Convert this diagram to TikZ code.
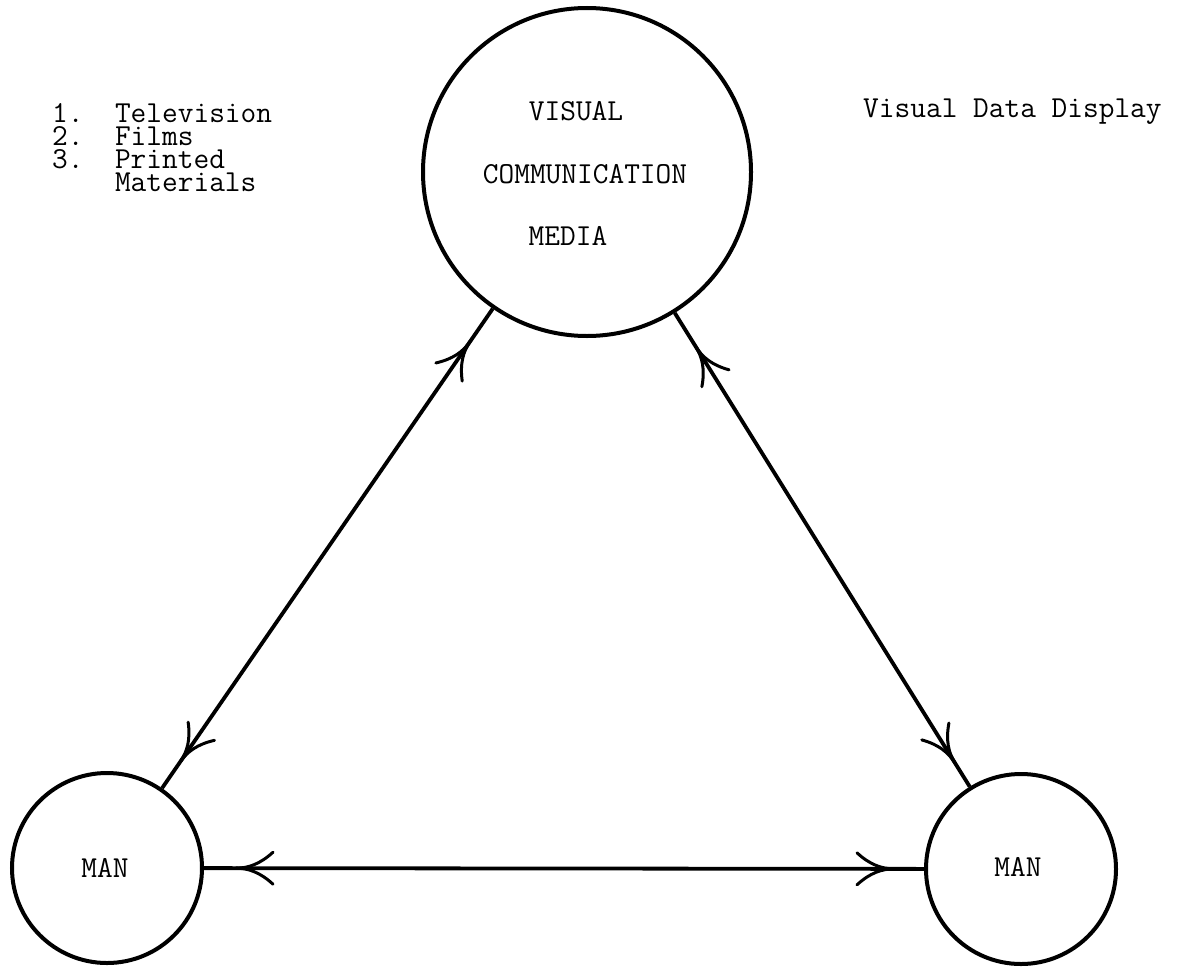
\documentclass[tikz,border=0pt]{standalone}
\usepackage{fontspec}
\usetikzlibrary{decorations.markings}
\newcommand\mytypefont{\ttfamily\addfontfeatures{FakeBold=0.8}\fontsize{30.5}{23}\selectfont\lineskiplimit=-50pt\relax}
\begin{document}
\begin{tikzpicture}[x=1pt,y=-1pt,
  circ/.style={circle,draw,line width=4pt,inner sep=0pt},
  txt/.style={font={\mytypefont},inner sep=0pt},
  barbs/.style={line width=3pt,line cap=round},
  link/.style 2 args={line width=3.8pt, postaction={decorate},
    decoration={markings,
      mark=at position #1 with {
        \draw[barbs] (0pt,0pt) .. controls (12pt,0pt) and (24pt,4pt) .. (37pt,16pt);
        \draw[barbs] (0pt,0pt) .. controls (12pt,0pt) and (24pt,-4pt) .. (37pt,-16pt);},
      mark=at position -#2 with {
        \draw[barbs] (0pt,0pt) .. controls (-12pt,0pt) and (-24pt,4pt) .. (-37pt,16pt);
        \draw[barbs] (0pt,0pt) .. controls (-12pt,0pt) and (-24pt,-4pt) .. (-37pt,-16pt);}}}
]
\useasboundingbox (0,0) rectangle (1177,966);

% circles
\node[circ,minimum size=328pt] (media) at (587,172) {};
\node[circ,minimum size=190pt] (manL) at (107,868) {};
\node[circ,minimum size=190pt] (manR) at (1021,869) {};

% labels in circles
\node[txt,anchor=base] (l1) at (576,120) {VISUAL};
\node[txt,anchor=base] (l2) at (585,183) {COMMUNICATION};
\node[txt,anchor=base] (l3) at (568,245) {MEDIA};
\node[txt,anchor=base] (m1) at (105,877) {MAN};
\node[txt,anchor=base] (m2) at (1018,876) {MAN};

% side texts
\node[txt,anchor=north west,align=left] (list) at (52,103)
  {1.\ \ Television\\2.\ \ Films\\3.\ \ Printed\\\phantom{3.}\ \ Materials};
\node[txt,anchor=base west] (vd) at (863,117) {Visual Data Display};

% connectors
\draw[link={40pt}{32pt}] (media) -- (manL);
\draw[link={40pt}{28pt}] (media) -- (manR);
\draw[link={32pt}{30pt}] (manL) -- (manR);
\end{tikzpicture}
\end{document}
